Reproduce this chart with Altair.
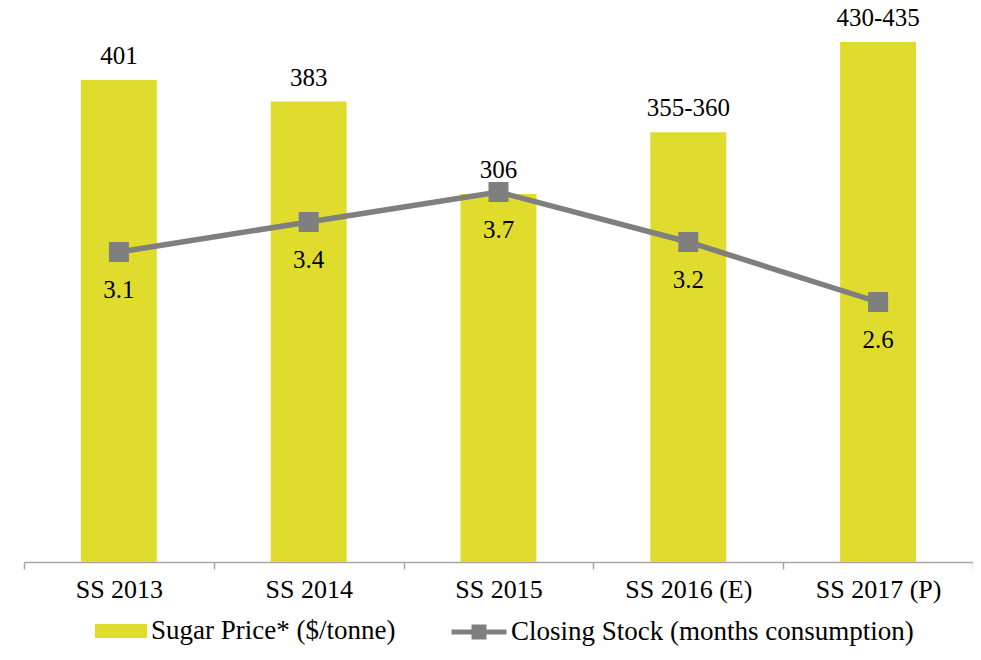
import altair as alt
import pandas as pd

categories = ["SS 2013", "SS 2014", "SS 2015", "SS 2016 (E)", "SS 2017 (P)"]
price_values = [401, 383, 306, 357.5, 432.5]
price_labels = ["401", "383", "306", "355-360", "430-435"]
stock_values = [3.1, 3.4, 3.7, 3.2, 2.6]
stock_labels = ["3.1", "3.4", "3.7", "3.2", "2.6"]

price_name = "Sugar Price* ($/tonne)"
stock_name = "Closing Stock (months consumption)"

YELLOW = "#E0DC2E"
GREY = "#7F7F7F"
FONT = "Liberation Serif"

df = pd.DataFrame({
    "cat": categories,
    "price": price_values,
    "plabel": price_labels,
    "stock": stock_values,
    "slabel": stock_labels,
    "pseries": [price_name] * 5,
    "sseries": [stock_name] * 5,
})

x = alt.X("cat:N", sort=categories, title=None,
          scale=alt.Scale(paddingInner=0, paddingOuter=0),
          axis=alt.Axis(tickBand="extent", labelAngle=0, labelFont=FONT,
                        labelFontSize=26, labelColor="#000000",
                        domainColor="#A6A6A6", domainWidth=1.5,
                        tickColor="#A6A6A6", tickWidth=1.5, tickSize=7,
                        labelPadding=7, grid=False))

yp = alt.Y("price:Q", scale=alt.Scale(domain=[0, 450]), axis=None)
ys = alt.Y("stock:Q", scale=alt.Scale(domain=[0, 5.41]), axis=None)

base = alt.Chart(df)

bars = base.mark_bar(width=alt.RelativeBandSize(0.4)).encode(
    x=x, y=yp,
    color=alt.Color("pseries:N", scale=alt.Scale(domain=[price_name], range=[YELLOW]),
                    legend=alt.Legend(title=None, orient="none", legendX=71, legendY=584,
                                      symbolType="M-1,-0.27h2v0.54h-2Z", symbolSize=2704,
                                      symbolStrokeWidth=0, symbolOpacity=1,
                                      labelFont=FONT, labelFontSize=27, labelColor="#000000",
                                      labelOffset=4, labelLimit=600, padding=0)),
)
bar_text = base.mark_text(baseline="alphabetic", dy=-16, font=FONT, fontSize=25, color="#000000").encode(
    x=x, y=yp, text="plabel:N")

bar_layer = alt.layer(bars, bar_text)

line = base.mark_line(strokeWidth=5.5).encode(
    x=x, y=ys,
    stroke=alt.Stroke("sseries:N", scale=alt.Scale(domain=[stock_name], range=[GREY]),
                      legend=alt.Legend(title=None, orient="none", legendX=425, legendY=581,
                                        symbolType="M-1,0H1M-0.18,-0.18h0.36v0.36h-0.36Z",
                                        symbolSize=3025, symbolStrokeWidth=5,
                                        symbolFillColor=GREY, symbolOpacity=1,
                                        labelFont=FONT, labelFontSize=27, labelColor="#000000",
                                        labelOffset=2, labelLimit=600, padding=0)),
)
pts = base.mark_point(shape="square", filled=True, size=400, opacity=1, color=GREY).encode(x=x, y=ys)
line_text = base.mark_text(baseline="alphabetic", dy=46, font=FONT, fontSize=25, color="#000000").encode(
    x=x, y=ys, text="slabel:N")

line_layer = alt.layer(line, pts, line_text)

chart = alt.layer(bar_layer, line_layer).resolve_scale(y="independent").properties(
    width=949, height=541,
    background="white",
    autosize=alt.AutoSizeParams(type="none"),
    padding={"left": 16, "top": 13, "right": 0, "bottom": 84},
).configure_view(strokeWidth=0, stroke="transparent")

chart.save("out.html", embed_options={"renderer": "svg", "actions": False})
